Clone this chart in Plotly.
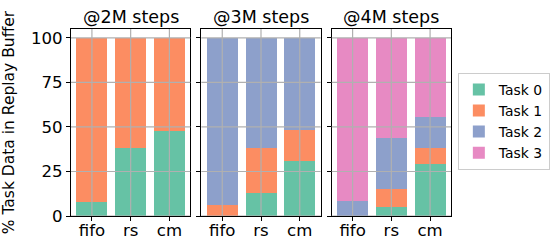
import plotly.graph_objects as go
from plotly.subplots import make_subplots

categories = ["fifo", "rs", "cm"]
panel_titles = ["@2M steps", "@3M steps", "@4M steps"]
task_names = ["Task 0", "Task 1", "Task 2", "Task 3"]
colors = ["#66c2a5", "#fc8d62", "#8da0cb", "#e78ac3"]

# percentage per panel (2M, 3M, 4M), each list over categories
task0 = [[8.0, 38.3, 47.6], [0.0, 12.9, 30.8], [0.0, 5.0, 29.3]]
task1 = [[92.0, 61.7, 52.4], [6.2, 25.4, 17.6], [0.0, 10.1, 9.0]]
task2 = [[0.0, 0.0, 0.0], [93.8, 61.7, 51.6], [8.4, 28.8, 17.2]]
task3 = [[0.0, 0.0, 0.0], [0.0, 0.0, 0.0], [91.6, 56.1, 44.5]]
y_ticks = [0, 25, 50, 75, 100]

series = [task0, task1, task2, task3]
FONT = "DejaVu Sans"

fig = make_subplots(rows=1, cols=3, shared_yaxes=True, horizontal_spacing=0.029,
                    subplot_titles=panel_titles)

for p in range(3):
    for t, (name, col) in enumerate(zip(task_names, colors)):
        fig.add_trace(go.Bar(x=list(range(len(categories))), y=series[t][p], name=name,
                             marker=dict(color=col, line=dict(width=0)), width=0.8,
                             legendgroup=name, showlegend=(p == 0)),
                      row=1, col=p + 1)

for p in range(3):
    xa = "x" if p == 0 else f"x{p+1}"
    ya = "y" if p == 0 else f"y{p+1}"
    for i in range(len(categories)):
        fig.add_shape(type="line", xref=xa, yref=f"{ya} domain", x0=i, x1=i, y0=0, y1=1,
                      line=dict(color="#b0b0b0", width=1.2), layer="above")
    for v in y_ticks:
        fig.add_shape(type="line", xref=f"{xa} domain", yref=ya, x0=0, x1=1, y0=v, y1=v,
                      line=dict(color="#b0b0b0", width=1.2), layer="above")

fig.update_xaxes(tickvals=list(range(len(categories))), ticktext=categories, range=[-0.54, 2.54],
                 showgrid=False, showline=True, linecolor="black", linewidth=1, mirror=True,
                 ticks="outside", ticklen=4, tickcolor="black", automargin=False,
                 ticklabelstandoff=-5,
                 tickfont=dict(family=FONT, size=16.6, color="black"))
fig.update_yaxes(tickvals=y_ticks, range=[0, 105], showgrid=False, showline=True,
                 linecolor="black", linewidth=1, mirror=True, ticks="outside", ticklen=4,
                 tickcolor="black", zeroline=False, automargin=False,
                 tickfont=dict(family=FONT, size=16.6, color="black"))
fig.update_yaxes(title=dict(text="% Task Data in Replay Buffer",
                            font=dict(family=FONT, size=15.5, color="black")), row=1, col=1)

for ann in fig.layout.annotations:
    ann.font = dict(family=FONT, size=17.5, color="black")
    ann.yshift = 0

fig.update_layout(
    barmode="stack", width=556, height=240,
    margin=dict(l=71, r=105, t=29, b=24, autoexpand=False),
    paper_bgcolor="white", plot_bgcolor="white",
    font=dict(family=FONT, color="black"),
    legend=dict(x=1.018, y=0.765, xanchor="left", yanchor="top", traceorder="normal",
                bgcolor="white", bordercolor="#cccccc", borderwidth=1,
                font=dict(family=FONT, size=13.9, color="black"), tracegroupgap=0),
)

fig.write_html("out.html", config={"displayModeBar": False},
               post_script="document.body.style.margin='0';document.body.style.padding='0';")
